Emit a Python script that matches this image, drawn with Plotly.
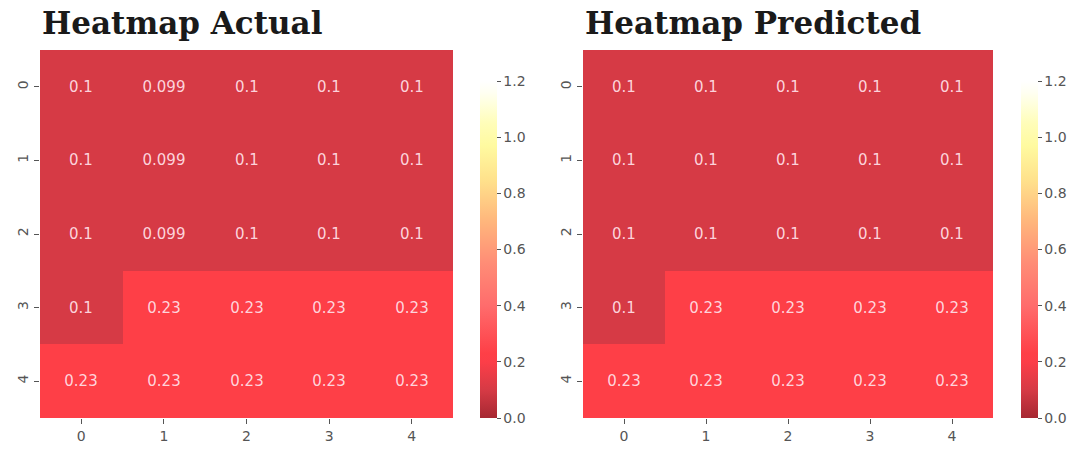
import plotly.graph_objects as go

# Grid indices
rows = [0, 1, 2, 3, 4]
cols = [0, 1, 2, 3, 4]

# Actual values per cell (row-major)
actual = [
    [0.1, 0.099, 0.1, 0.1, 0.1],
    [0.1, 0.099, 0.1, 0.1, 0.1],
    [0.1, 0.099, 0.1, 0.1, 0.1],
    [0.1, 0.23, 0.23, 0.23, 0.23],
    [0.23, 0.23, 0.23, 0.23, 0.23],
]

# Predicted values per cell (row-major)
predicted = [
    [0.1, 0.1, 0.1, 0.1, 0.1],
    [0.1, 0.1, 0.1, 0.1, 0.1],
    [0.1, 0.1, 0.1, 0.1, 0.1],
    [0.1, 0.23, 0.23, 0.23, 0.23],
    [0.23, 0.23, 0.23, 0.23, 0.23],
]

titles = ["Heatmap Actual", "Heatmap Predicted"]
cbar_ticks = [0.0, 0.2, 0.4, 0.6, 0.8, 1.0, 1.2]

ZMAX = 1.2
# Faded red -> orange -> yellow scale on a 0..1.2 range
scale_points = [
    (0.00, "rgb(166,40,50)"),
    (0.10, "rgb(214,58,69)"),
    (0.20, "rgb(252,62,72)"),
    (0.23, "rgb(254,63,71)"),
    (0.40, "rgb(255,108,108)"),
    (0.55, "rgb(255,140,118)"),
    (0.70, "rgb(255,182,124)"),
    (0.85, "rgb(255,226,140)"),
    (0.97, "rgb(255,250,160)"),
    (1.05, "rgb(255,253,185)"),
    (1.12, "rgb(255,255,222)"),
    (1.16, "rgb(255,255,242)"),
    (1.20, "rgb(255,255,255)"),
]
colorscale = [[v / ZMAX, c] for v, c in scale_points]

W, H = 1082, 450
def px_x(p):
    return p / W
def px_y(p):
    return 1 - p / H

panels = [
    dict(x0=40, x1=453, cb=480),
    dict(x0=583, x1=993, cb=1021),
]
y_top, y_bot = 50, 418

fig = go.Figure()
grey = "#555555"

for i, (data, title, pnl) in enumerate(zip([actual, predicted], titles, panels)):
    n = "" if i == 0 else str(i + 1)
    fig.add_trace(go.Heatmap(
        z=data, x=cols, y=rows,
        text=[[f"{v:g}" for v in r] for r in data],
        texttemplate="%{text}",
        textfont=dict(family="DejaVu Sans", size=15, color="rgba(255,222,228,0.95)"),
        coloraxis="coloraxis" + n,
        xaxis="x" + n, yaxis="y" + n,
        hoverinfo="skip",
    ))
    axis_common = dict(
        showgrid=False, zeroline=False, showline=False,
        ticks="outside", ticklen=5, tickcolor=grey, tickwidth=1,
        tickfont=dict(family="DejaVu Sans", size=14, color=grey),
    )
    fig.layout["xaxis" + n] = dict(
        domain=[px_x(pnl["x0"]), px_x(pnl["x1"])],
        anchor="y" + n, tickvals=cols, range=[-0.5, 4.5],
        **axis_common,
    )
    fig.layout["yaxis" + n] = dict(
        domain=[px_y(y_bot), px_y(y_top)],
        anchor="x" + n, tickvals=rows, range=[4.5, -0.5],
        tickangle=-90,
        **axis_common,
    )
    fig.layout["coloraxis" + n] = dict(
        colorscale=colorscale, cmin=0, cmax=ZMAX,
        colorbar=dict(
            x=px_x(pnl["cb"]), xanchor="left", xpad=0, ypad=0,
            y=px_y(y_bot), yanchor="bottom",
            thickness=17, len=337, lenmode="pixels",
            outlinewidth=0,
            tickvals=cbar_ticks, ticktext=[f"{t:.1f}" for t in cbar_ticks],
            ticks="outside", ticklen=4, tickcolor=grey,
            tickfont=dict(family="DejaVu Sans", size=14, color=grey),
        ),
    )
    fig.add_annotation(
        text=f"<b>{title}</b>", xref="paper", yref="paper",
        x=px_x(pnl["x0"]), y=px_y(23), xanchor="left", yanchor="middle",
        showarrow=False,
        font=dict(family="DejaVu Serif", size=31, color="#1a1a1a"),
    )

fig.update_layout(
    width=W, height=H,
    margin=dict(l=0, r=0, t=0, b=0),
    paper_bgcolor="white", plot_bgcolor="white",
    showlegend=False,
)

fig.write_html("out.html")
